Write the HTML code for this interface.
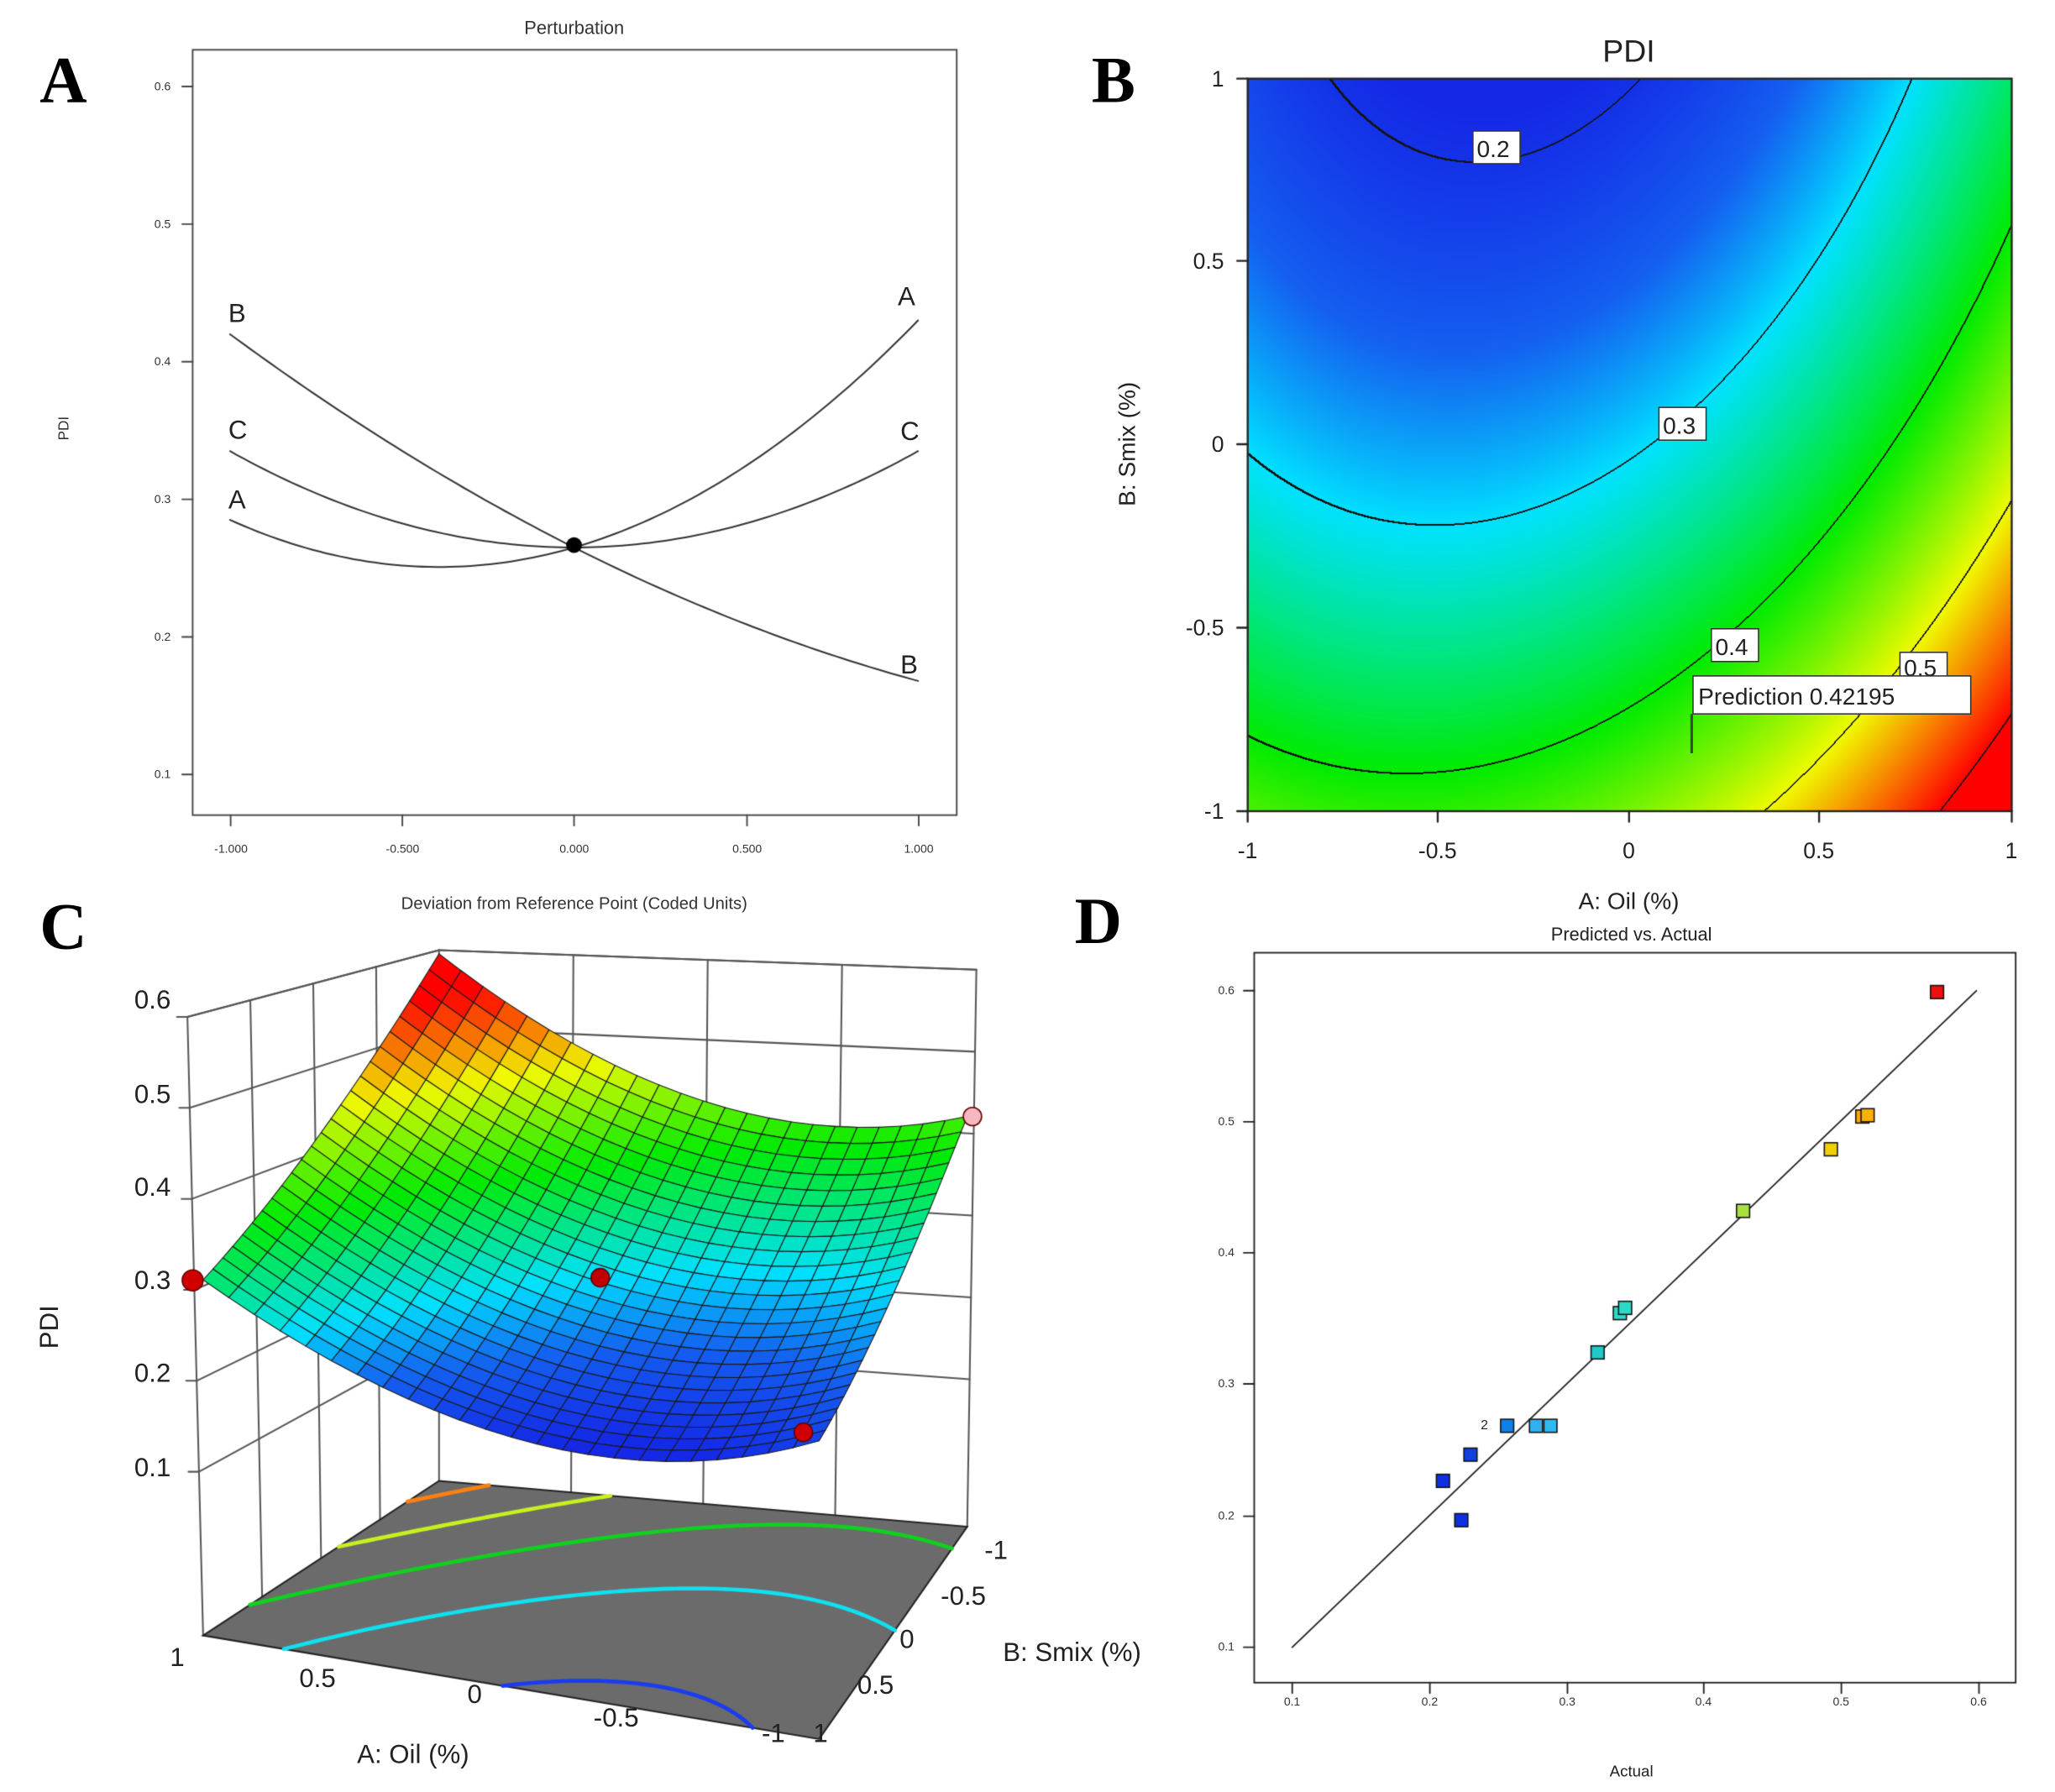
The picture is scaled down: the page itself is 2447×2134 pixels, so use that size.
<!DOCTYPE html>
<html><head><meta charset="utf-8">
<style>
html,body{margin:0;padding:0;background:#fff;}
#wrap{position:relative;width:2447px;height:2134px;overflow:hidden;}
canvas,svg{position:absolute;left:0;top:0;}
</style></head>
<body><div id="wrap">
<canvas id="cv" width="2447" height="2134" style="width:2447px;height:2134px"></canvas>
<svg width="2447" height="2134" viewBox="0 0 1568 1368" font-family="Liberation Sans, sans-serif">
<g font-family="Liberation Serif, serif" font-weight="bold" font-size="50">
<text x="30" y="78">A</text><text x="833" y="78">B</text><text x="30" y="724">C</text><text x="820" y="720">D</text>
</g>
<text x="438" y="26" font-size="14" text-anchor="middle" fill="#333">Perturbation</text>
<text x="438" y="694" font-size="13" text-anchor="middle" fill="#333">Deviation from Reference Point (Coded Units)</text>
<text transform="translate(52,327) rotate(-90)" font-size="11" text-anchor="middle" fill="#333">PDI</text>
<g font-size="9" fill="#333" text-anchor="end">
<text x="130" y="69">0.6</text><text x="130" y="174">0.5</text><text x="130" y="279">0.4</text><text x="130" y="384">0.3</text><text x="130" y="489">0.2</text><text x="130" y="594">0.1</text>
</g>
<g font-size="9" fill="#333" text-anchor="middle">
<text x="176" y="651">-1.000</text><text x="307" y="651">-0.500</text><text x="438" y="651">0.000</text><text x="570" y="651">0.500</text><text x="701" y="651">1.000</text>
</g>
<g font-size="20" fill="#222">
<text x="174" y="246">B</text><text x="174" y="335">C</text><text x="174" y="388">A</text>
<text x="685" y="233">A</text><text x="687" y="336">C</text><text x="687" y="514">B</text>
</g>
<text x="1243" y="47" font-size="24" text-anchor="middle" fill="#222">PDI</text>
<text x="1243" y="694" font-size="18" text-anchor="middle" fill="#222">A: Oil (%)</text>
<text transform="translate(866,339) rotate(-90)" font-size="18" text-anchor="middle" fill="#222">B: Smix (%)</text>
<g font-size="17" fill="#222" text-anchor="middle">
<text x="952" y="655">-1</text><text x="1097" y="655">-0.5</text><text x="1243" y="655">0</text><text x="1388" y="655">0.5</text><text x="1535" y="655">1</text>
</g>
<g font-size="17" fill="#222" text-anchor="end">
<text x="934" y="66">1</text><text x="934" y="205">0.5</text><text x="934" y="345">0</text><text x="934" y="485">-0.5</text><text x="934" y="625">-1</text>
</g>
<g font-size="18" fill="#222">
<rect x="1124" y="100" width="36" height="25" fill="#fff" stroke="#333"/><text x="1127" y="120">0.2</text>
<rect x="1266" y="311" width="36" height="25" fill="#fff" stroke="#333"/><text x="1269" y="331">0.3</text>
<rect x="1306" y="480" width="36" height="25" fill="#fff" stroke="#333"/><text x="1309" y="500">0.4</text>
<rect x="1450" y="498" width="36" height="20" fill="#fff" stroke="#333"/><text x="1453" y="516">0.5</text>
<rect x="1292" y="516" width="212" height="29" fill="#fff" stroke="#333"/><text x="1296" y="538">Prediction  0.42195</text>
</g>
<line x1="1291" y1="545" x2="1291" y2="575" stroke="#444" stroke-width="2"/>
<text transform="translate(44,1013) rotate(-90)" font-size="20" text-anchor="middle" fill="#222">PDI</text>
<g font-size="20" fill="#222" text-anchor="end">
<text x="130" y="770">0.6</text><text x="130" y="842">0.5</text><text x="130" y="913">0.4</text><text x="130" y="984">0.3</text><text x="130" y="1055">0.2</text><text x="130" y="1127">0.1</text>
</g>
<g font-size="20" fill="#222" text-anchor="middle">
<text x="135" y="1272">1</text><text x="242" y="1288">0.5</text><text x="362" y="1300">0</text><text x="470" y="1318">-0.5</text><text x="590" y="1330">-1</text>
<text x="760" y="1190">-1</text><text x="735" y="1225">-0.5</text><text x="692" y="1258">0</text><text x="668" y="1293">0.5</text><text x="626" y="1330">1</text>
</g>
<text x="315" y="1346" font-size="20" text-anchor="middle" fill="#222">A: Oil (%)</text>
<text x="818" y="1268" font-size="20" text-anchor="middle" fill="#222">B: Smix (%)</text>
<text x="1245" y="718" font-size="14" text-anchor="middle" fill="#222">Predicted vs. Actual</text>
<text x="1245" y="1356" font-size="12" text-anchor="middle" fill="#222">Actual</text>
<g font-size="9" fill="#333" text-anchor="end">
<text x="942" y="759">0.6</text><text x="942" y="859">0.5</text><text x="942" y="959">0.4</text><text x="942" y="1059">0.3</text><text x="942" y="1160">0.2</text><text x="942" y="1260">0.1</text>
</g>
<g font-size="9" fill="#333" text-anchor="middle">
<text x="986" y="1302">0.1</text><text x="1091" y="1302">0.2</text><text x="1196" y="1302">0.3</text><text x="1300" y="1302">0.4</text><text x="1405" y="1302">0.5</text><text x="1510" y="1302">0.6</text>
</g>
<text x="1130" y="1091" font-size="10" fill="#222">2</text>
</svg>
</div>
<script>
const S=2447/1568;
const cv=document.getElementById('cv');const ctx=cv.getContext('2d');
function f(A,B){return 0.295+0.09*A-0.126*B+0.0925*A*A+0.029*B*B-0.02*A*B;}
function cmap(v){
 const st=[[0.19,[20,40,230]],[0.245,[20,95,240]],[0.3,[0,225,255]],[0.4,[0,235,0]],[0.5,[240,250,0]],[0.6,[255,0,0]]];
 if(v<=st[0][0])return st[0][1];
 for(let i=0;i<st.length-1;i++){if(v<=st[i+1][0]){const u=(v-st[i][0])/(st[i+1][0]-st[i][0]);const a=st[i][1],b=st[i+1][1];return [a[0]+(b[0]-a[0])*u,a[1]+(b[1]-a[1])*u,a[2]+(b[2]-a[2])*u];}}
 return st[st.length-1][1];}
(function(){const x0=Math.round(952*S),x1=Math.round(1535*S),y0=Math.round(60*S),y1=Math.round(619*S);
 const w=x1-x0,h=y1-y0;const img=ctx.createImageData(w,h);
 const val=(i,j)=>f(-1+2*i/w,1-2*j/h);
 for(let j=0;j<h;j++)for(let i=0;i<w;i++){const v=val(i,j);let c=cmap(v);
  const l=Math.floor(v*10),lr=Math.floor(val(i+1,j)*10),ld=Math.floor(val(i,j+1)*10),lr2=Math.floor(val(i+2,j)*10),ld2=Math.floor(val(i,j+2)*10);
  if(l!=lr||l!=ld||l!=lr2||l!=ld2)c=[20,20,20];
  const k=(j*w+i)*4;img.data[k]=c[0];img.data[k+1]=c[1];img.data[k+2]=c[2];img.data[k+3]=255;}
 ctx.putImageData(img,x0,y0);})();
ctx.scale(S,S);
ctx.lineCap='round';
ctx.strokeStyle='#222';ctx.lineWidth=1.5;ctx.strokeRect(952,60,583,559);
ctx.beginPath();[952,1097,1243,1388,1535].forEach(x=>{ctx.moveTo(x,619);ctx.lineTo(x,627);});
[60,199,339,479,619].forEach(y=>{ctx.moveTo(944,y);ctx.lineTo(952,y);});ctx.stroke();
ctx.strokeStyle='#444';ctx.lineWidth=1.2;ctx.strokeRect(147,38,583,584);
ctx.beginPath();[176,307,438,570,701].forEach(x=>{ctx.moveTo(x,622);ctx.lineTo(x,630);});
[66,171,276,381,486,591].forEach(y=>{ctx.moveTo(139,y);ctx.lineTo(147,y);});ctx.stroke();
function yA(v){return 591-(v-0.1)*1050;}function xA(t){return 438+t*262.5;}
const crv=[[0.0725,0.0925],[-0.126,0.029],[0,0.07]];
ctx.strokeStyle='#333';ctx.lineWidth=1.3;
crv.forEach(c=>{ctx.beginPath();for(let t=-1;t<=1.0001;t+=0.02){const v=0.265+c[0]*t+c[1]*t*t;t==-1?ctx.moveTo(xA(t),yA(v)):ctx.lineTo(xA(t),yA(v));}ctx.stroke();});
ctx.fillStyle='#000';ctx.beginPath();ctx.arc(438,416,6,0,7);ctx.fill();
const F={a:[155,1248],b:[335,1130],c:[738,1165],d:[625,1327]};
const K={a:616,b:549,c:611,d:757};const zf=-0.08;
function bil(A,B){const u=(1-A)/2,v=(1-B)/2;const a=F.a,b=F.b,c=F.c,d=F.d;
 return [0,1].map(i=>a[i]*(1-u)*(1-v)+b[i]*(1-u)*v+c[i]*u*v+d[i]*u*(1-v));}
function kk(A,B){const u=(1-A)/2,v=(1-B)/2;return K.a*(1-u)*(1-v)+K.b*(1-u)*v+K.c*u*v+K.d*u*(1-v);}
function P(A,B,z){const p=bil(A,B);return [p[0],p[1]-(z-zf)*kk(A,B)];}
const T11=[143,776],T1m=[335,725],Tmm=[745,740];
ctx.strokeStyle='#555';ctx.lineWidth=1.3;
function L(p,q){ctx.beginPath();ctx.moveTo(p[0],p[1]);ctx.lineTo(q[0],q[1]);ctx.stroke();}
L(T11,F.a);L(T1m,F.b);L(Tmm,F.c);L(T11,T1m);L(T1m,Tmm);
function lerp(p,q,t){return [p[0]+(q[0]-p[0])*t,p[1]+(q[1]-p[1])*t];}
const Fa=F.a,Fb=F.b,Fc=F.c;
for(let z=0.1;z<0.65;z+=0.1){const t=(0.6-z)/0.68;
 const pa=lerp(T11,Fa,t),pb=lerp(T1m,Fb,t),pc=lerp(Tmm,Fc,t);L(pa,pb);L(pb,pc);
 ctx.beginPath();ctx.moveTo(pa[0],pa[1]);ctx.lineTo(pa[0]-8,pa[1]);ctx.stroke();}
for(let i=1;i<4;i++){const t=i/4;L(lerp(T11,T1m,t),lerp(Fa,Fb,t));L(lerp(T1m,Tmm,t),lerp(Fb,Fc,t));}
ctx.fillStyle='#6b6b6b';ctx.beginPath();ctx.moveTo(...F.a);ctx.lineTo(...F.b);ctx.lineTo(...F.c);ctx.lineTo(...F.d);ctx.closePath();ctx.fill();
ctx.strokeStyle='#222';ctx.lineWidth=1.3;ctx.stroke();
const N=80;const lev=[[0.2,'#1a3cf0'],[0.3,'#10e0f0'],[0.4,'#10d020'],[0.5,'#c8f020'],[0.6,'#ff8010']];
lev.forEach(([L0,col])=>{ctx.strokeStyle=col;ctx.lineWidth=3;ctx.beginPath();
 for(let i=0;i<N;i++)for(let j=0;j<N;j++){const A0=-1+2*i/N,A1=-1+2*(i+1)/N,B0=-1+2*j/N,B1=-1+2*(j+1)/N;
  const c=[[A0,B0],[A1,B0],[A1,B1],[A0,B1]];const v=c.map(p=>f(p[0],p[1])-L0);const pts=[];
  for(let e=0;e<4;e++){const p=c[e],q=c[(e+1)%4],a=v[e],b=v[(e+1)%4];if((a<0)!=(b<0)){const t=a/(a-b);pts.push([p[0]+(q[0]-p[0])*t,p[1]+(q[1]-p[1])*t]);}}
  if(pts.length>=2){const s=bil(pts[0][0],pts[0][1]),e2=bil(pts[1][0],pts[1][1]);ctx.moveTo(s[0],s[1]);ctx.lineTo(e2[0],e2[1]);}}
 ctx.stroke();});
const M=24;const quads=[];
for(let i=0;i<M;i++)for(let j=0;j<M;j++){const A0=1-2*i/M,A1=1-2*(i+1)/M,B0=-1+2*j/M,B1=-1+2*(j+1)/M;
 quads.push({d:i+j,p:[[A0,B0],[A1,B0],[A1,B1],[A0,B1]],v:f((A0+A1)/2,(B0+B1)/2)});}
quads.sort((a,b)=>a.d-b.d);
ctx.lineWidth=0.7;ctx.strokeStyle='#1a1a1a';
quads.forEach(q=>{const c=cmap(q.v);ctx.fillStyle=`rgb(${c[0]|0},${c[1]|0},${c[2]|0})`;ctx.beginPath();
 q.p.forEach((a,k)=>{const s=P(a[0],a[1],f(a[0],a[1]));k?ctx.lineTo(s[0],s[1]):ctx.moveTo(s[0],s[1]);});ctx.closePath();ctx.fill();ctx.stroke();});
function dot(x,y,r,col){ctx.fillStyle=col;ctx.strokeStyle='#600';ctx.lineWidth=1;ctx.beginPath();ctx.arc(x,y,r,0,7);ctx.fill();ctx.stroke();}
dot(147,977,8,'#d00000');dot(458,975,7,'#c00000');dot(613,1093,7,'#d00000');dot(742,852,7,'#f4b8c0');
ctx.strokeStyle='#222';ctx.lineWidth=1.2;ctx.strokeRect(957,727,581,557);
ctx.beginPath();[986,1091,1196,1300,1405,1510].forEach(x=>{ctx.moveTo(x,1284);ctx.lineTo(x,1292);});
[756,856,956,1056,1157,1257].forEach(y=>{ctx.moveTo(949,y);ctx.lineTo(957,y);});ctx.stroke();
ctx.beginPath();ctx.moveTo(986,1257);ctx.lineTo(1508,756);ctx.stroke();
const pts=[[1478,757,'#ee1010'],[1421,852,'#ffa500'],[1425,851,'#ffb000'],[1397,877,'#f0d000'],[1330,924,'#a8e040'],[1236,1002,'#30d8c8'],[1240,998,'#30d8c8'],[1219,1032,'#20c8c8'],[1172,1088,'#30b0f0'],[1183,1088,'#30b8f0'],[1150,1088,'#1080e8'],[1122,1110,'#1040e0'],[1101,1130,'#1030e0'],[1115,1160,'#1030e0']];
pts.forEach(p=>{ctx.fillStyle=p[2];ctx.fillRect(p[0]-5,p[1]-5,10,10);ctx.strokeStyle='#111';ctx.lineWidth=1;ctx.strokeRect(p[0]-5,p[1]-5,10,10);});
</script>
</body></html>
